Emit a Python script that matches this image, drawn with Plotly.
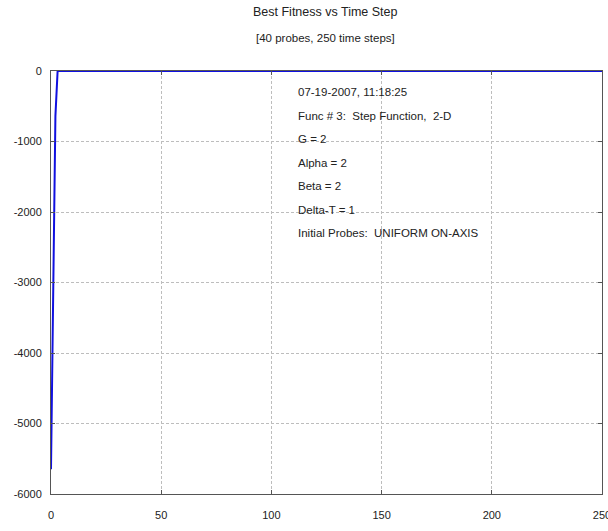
import plotly.graph_objects as go

# Best fitness per time step (only the first few steps change)
steps = [0, 1, 2, 3, 250]
best_fitness = [-5650, -3130, -640, 0, 0]

x_ticks = [0, 50, 100, 150, 200, 250]
y_ticks = [0, -1000, -2000, -3000, -4000, -5000, -6000]

title_lines = ["Best Fitness vs Time Step", "[40 probes, 250 time steps]"]
info_lines = [
    "07-19-2007, 11:18:25",
    "Func # 3:  Step Function,  2-D",
    "G = 2",
    "Alpha = 2",
    "Beta = 2",
    "Delta-T = 1",
    "Initial Probes:  UNIFORM ON-AXIS",
]

W, H = 608, 531
L, R, T, B = 51, 6, 71, 37
plot_h = H - T - B

font = dict(family="Liberation Sans, Arial, sans-serif", size=11, color="#222222")

fig = go.Figure()
fig.add_trace(go.Scatter(
    x=steps, y=best_fitness, mode="lines",
    line=dict(color="#1010e0", width=2),
    hoverinfo="skip", showlegend=False,
))

axis_common = dict(
    showline=True, linecolor="#555555", linewidth=1, mirror="ticks",
    ticks="inside", ticklen=4, tickcolor="#555555",
    showgrid=True, gridcolor="#bdbdbd", griddash="3px,2px", gridwidth=1,
    zeroline=False, tickfont=font, ticklabeloverflow="allow",
    automargin=False,
)

fig.update_xaxes(range=[-0.001, 250.001], tickvals=x_ticks,
                 ticktext=[str(v) for v in x_ticks],
                 ticklabelstandoff=11, **axis_common)
fig.update_yaxes(range=[-6000.01, 0.01], tickvals=y_ticks,
                 ticktext=[str(v) for v in y_ticks],
                 ticklabelstandoff=6, **axis_common)

annotations = []
# Two-line title above the plot area
for text, ypx, size in zip(title_lines, [12, 38], [12.5, 11.5]):
    annotations.append(dict(
        text=text, xref="paper", yref="paper",
        x=(325 - L) / (W - L - R), y=1 + (T - ypx) / plot_h,
        xanchor="center", yanchor="middle", showarrow=False,
        font=dict(font, size=size),
    ))

# Run information block inside the plot
for i, text in enumerate(info_lines):
    ypx = 92 + i * 23.5
    annotations.append(dict(
        text=text, xref="x", yref="paper",
        x=111.3, y=1 - (ypx - T) / plot_h,
        xanchor="left", yanchor="middle", showarrow=False,
        font=dict(font, size=11.5),
    ))

fig.update_layout(
    width=W, height=H,
    margin=dict(l=L, r=R, t=T, b=B, autoexpand=False),
    paper_bgcolor="white", plot_bgcolor="white",
    annotations=annotations,
    font=font,
)

fig.write_html("out.html")
